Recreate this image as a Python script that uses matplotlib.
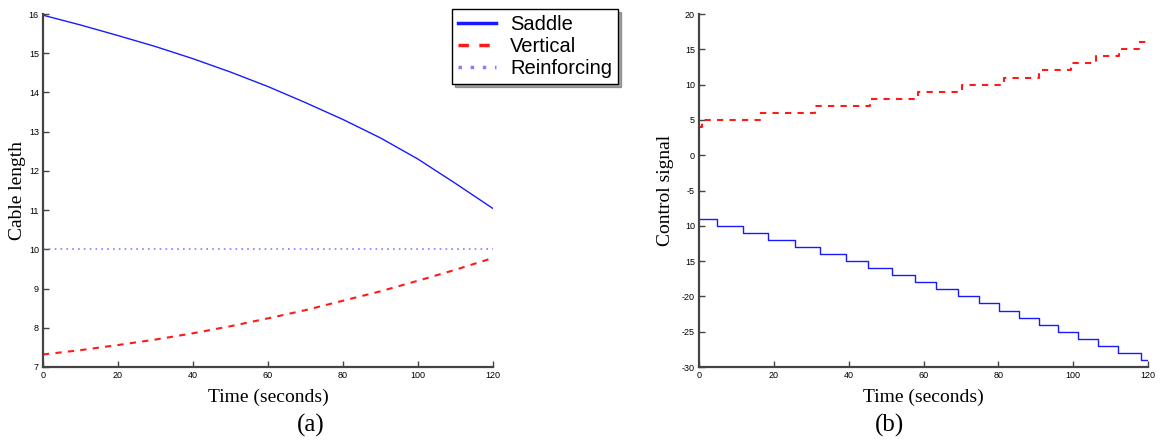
import matplotlib
matplotlib.use('Agg')
import matplotlib.pyplot as plt

# (a) cable lengths, sampled every 10 s
t = [0, 10, 20, 30, 40, 50, 60, 70, 80, 90, 100, 110, 120]
saddle = [15.97, 15.72, 15.45, 15.17, 14.86, 14.52, 14.15, 13.74, 13.31, 12.84, 12.30, 11.68, 11.04]
vertical = [7.32, 7.43, 7.56, 7.7, 7.86, 8.04, 8.24, 8.45, 8.69, 8.93, 9.2, 9.48, 9.78]
reinforcing = [10] * len(t)

# (b) control signals: switching times and held levels
t_vert = [0, 0.8, 16.3, 31, 45.6, 58.4, 70.4, 81.6, 91, 99.5, 106, 112.3, 117.6, 120]
u_vert = [4, 5, 6, 7, 8, 9, 10, 11, 12, 13, 14, 15, 16, 16]
t_sad = [0, 4.8, 11.7, 18.5, 25.6, 32.3, 39.2, 45.3, 51.6, 57.6, 63.4, 69.3, 74.9,
         80.3, 85.6, 91, 96, 101.4, 106.7, 112, 118.1, 120]
u_sad = [-9, -10, -11, -12, -13, -14, -15, -16, -17, -18, -19, -20, -21,
         -22, -23, -24, -25, -26, -27, -28, -29, -29]

xticks = [0, 20, 40, 60, 80, 100, 120]
yticks_a = [7, 8, 9, 10, 11, 12, 13, 14, 15, 16]
yticks_b = [20, 15, 10, 5, 0, -5, -10, -15, -20, -25, -30]
ylabels_b = ['20', '15', '10', '5', '0', '-5', '10', '15', '-20', '-25', '-30']

W, H = 1161, 442
fig = plt.figure(figsize=(W / 100, H / 100), dpi=100)

def px_axes(x0, y0, x1, y1):
    return fig.add_axes([x0 / W, 1 - y1 / H, (x1 - x0) / W, (y1 - y0) / H])

serif = 'Liberation Serif'
sans = 'Liberation Sans'

def style(ax):
    for s in ['top', 'right']:
        ax.spines[s].set_visible(False)
    for s in ['left', 'bottom']:
        ax.spines[s].set_color('#444444')
        ax.spines[s].set_linewidth(1.6)
    ax.tick_params(direction='in', length=4, width=1, color='#444444',
                   labelsize=6.5, pad=3)
    ax.set_xlim(0, 120)
    ax.set_xticks(xticks)
    ax.set_xticklabels([str(v) for v in xticks], family=sans)

ax1 = px_axes(43, 14, 493, 367)
l1, = ax1.plot(t, saddle, color='#1a1aff', lw=1.0, label='Saddle')
l2, = ax1.plot(t, vertical, color='#ff1a1a', lw=1.5, ls=(0, (3, 3)), label='Vertical')
l3, = ax1.plot(t, reinforcing, color='#8080ff', lw=1.2, ls=(0, (1, 2.5)), label='Reinforcing')
ax1.set_ylim(7, 16)
ax1.set_yticks(yticks_a)
ax1.set_yticklabels([str(v) for v in yticks_a], family=sans)
style(ax1)
ax1.set_xlabel('Time (seconds)', family=serif, fontsize=14, labelpad=6)
ax1.set_ylabel('Cable length', family=serif, fontsize=14, labelpad=2)

ax2 = px_axes(699, 14, 1148, 367)
ax2.step(t_vert, u_vert, where='post', color='#ff1a1a', lw=1.5, ls=(0, (3, 3)))
ax2.step(t_sad, u_sad, where='post', color='#1a1aff', lw=1.0)
ax2.set_ylim(-30, 20)
ax2.set_yticks(yticks_b)
ax2.set_yticklabels(ylabels_b, family=sans)
style(ax2)
ax2.set_xlabel('Time (seconds)', family=serif, fontsize=14, labelpad=6)
ax2.set_ylabel('Control signal', family=serif, fontsize=14, labelpad=6)

leg = fig.legend(handles=[l1, l2, l3], loc='upper left',
                 bbox_to_anchor=(452 / W, 1 - 9 / H), borderaxespad=0,
                 prop={'family': sans, 'size': 14.5},
                 fancybox=False, shadow=True, edgecolor='black', framealpha=1,
                 handlelength=1.9, labelspacing=0.15, borderpad=0.3, handletextpad=0.7)
leg.get_frame().set_linewidth(1.0)
for h in leg.get_lines():
    h.set_linewidth(2.5)

fig.text(311 / W, 1 - 425 / H, '(a)', family=serif, fontsize=18, ha='center', va='center')
fig.text(890 / W, 1 - 425 / H, '(b)', family=serif, fontsize=18, ha='center', va='center')

fig.savefig('out.png', dpi=100)
